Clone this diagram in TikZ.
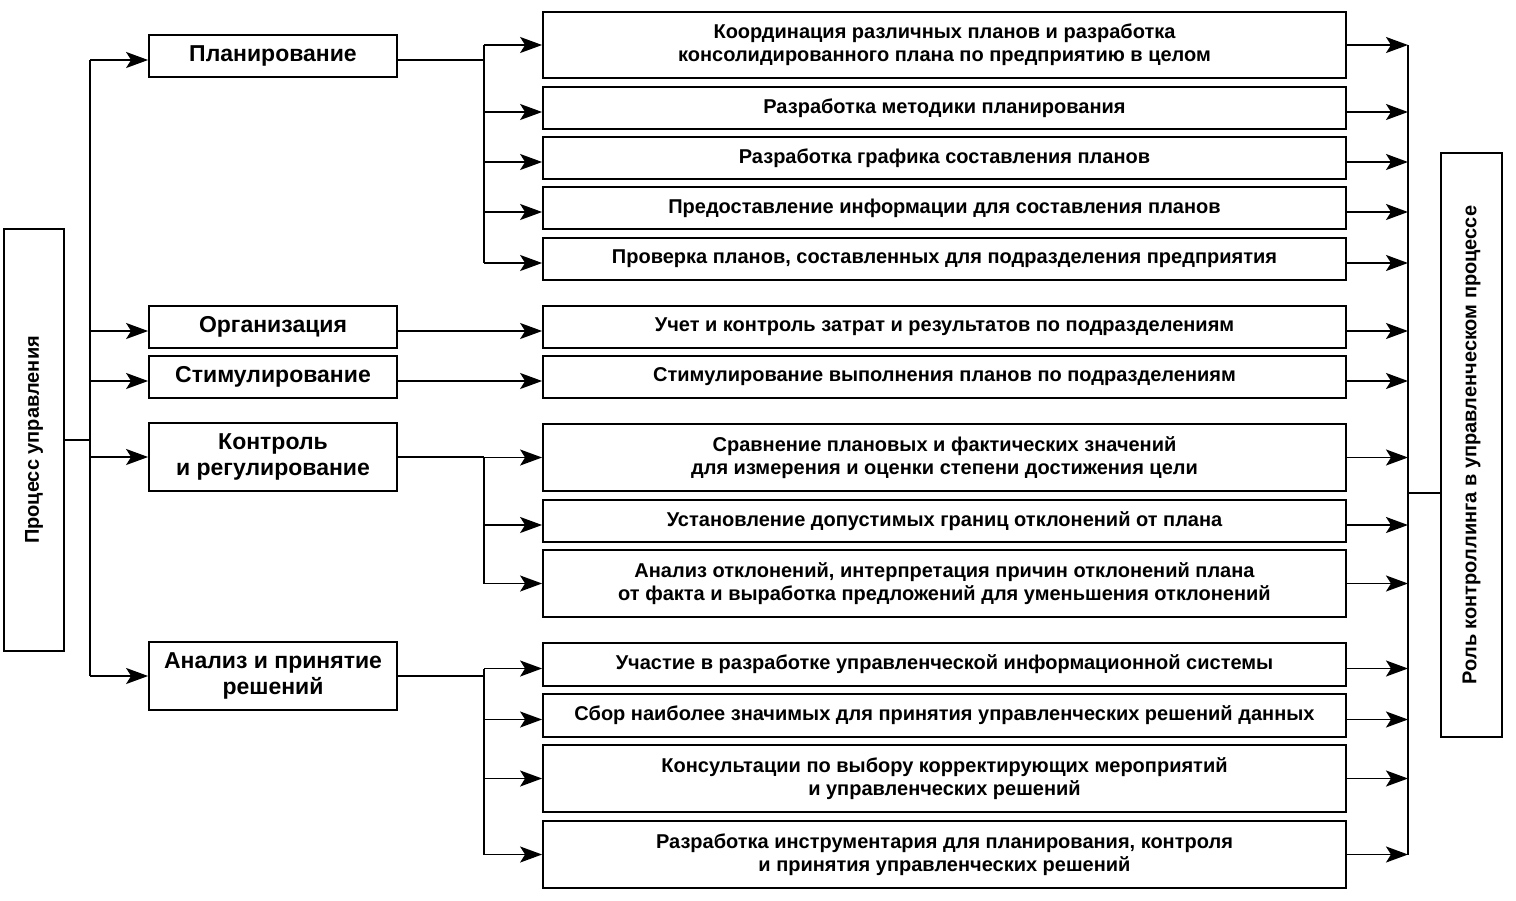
\documentclass[tikz,border=0pt]{standalone}
\usepackage{fontspec}
\setmainfont{Liberation Sans}
\usetikzlibrary{arrows.meta}
\begin{document}
\begin{tikzpicture}[x=1pt,y=-1pt,
  box/.style={draw, line width=1.8pt, inner sep=0pt, align=center},
  rbox/.style={box, minimum width=803pt, font=\fontsize{20}{23}\selectfont\bfseries},
  mbox/.style={box, minimum width=248pt, font=\fontsize{23}{26}\selectfont\bfseries},
  sbox/.style={box, rotate=90, font=\fontsize{20}{23}\selectfont\bfseries},
  arr/.style={-{Stealth[length=22pt,width=16pt,inset=5pt]}, line width=1.8pt},
  ln/.style={line width=1.8pt}]
\useasboundingbox (0,0) rectangle (1516,900);
% side boxes
\node[sbox, minimum width=422pt, minimum height=60pt] (L) at (34,440) {Процесс управления};
\node[sbox, minimum width=584pt, minimum height=61pt] (R) at (1471.5,445) {Роль контроллинга в управленческом процессе};
% middle boxes
\node[mbox, minimum height=42pt] (m1) at (273,56) {Планирование};
\node[mbox, minimum height=42pt] (m2) at (273,327) {Организация};
\node[mbox, minimum height=42pt] (m3) at (273,377) {Стимулирование};
\node[mbox, minimum height=68pt] (m4) at (273,457) {Контроль\\и регулирование};
\node[mbox, minimum height=68pt] (m5) at (273,676) {Анализ и принятие\\решений};
% right boxes
\node[rbox, minimum height=66pt] (r1) at (944.5,45) {Координация различных планов и разработка\\консолидированного плана по предприятию в целом};
\node[rbox, minimum height=42pt] (r2) at (944.5,108) {Разработка методики планирования};
\node[rbox, minimum height=42pt] (r3) at (944.5,158) {Разработка графика составления планов};
\node[rbox, minimum height=42pt] (r4) at (944.5,208) {Предоставление информации для составления планов};
\node[rbox, minimum height=42pt] (r5) at (944.5,259) {Проверка планов, составленных для подразделения предприятия};
\node[rbox, minimum height=42pt] (r6) at (944.5,327) {Учет и контроль затрат и результатов по подразделениям};
\node[rbox, minimum height=42pt] (r7) at (944.5,377) {Стимулирование выполнения планов по подразделениям};
\node[rbox, minimum height=67pt] (r8) at (944.5,457.5) {Сравнение плановых и фактических значений\\для измерения и оценки степени достижения цели};
\node[rbox, minimum height=42pt] (r9) at (944.5,521) {Установление допустимых границ отклонений от плана};
\node[rbox, minimum height=67pt] (r10) at (944.5,583.5) {Анализ отклонений, интерпретация причин отклонений плана\\от факта и выработка предложений для уменьшения отклонений};
\node[rbox, minimum height=43pt] (r11) at (944.5,664.5) {Участие в разработке управленческой информационной системы};
\node[rbox, minimum height=43pt] (r12) at (944.5,715.5) {Сбор наиболее значимых для принятия управленческих решений данных};
\node[rbox, minimum height=67pt] (r13) at (944.5,778.5) {Консультации по выбору корректирующих мероприятий\\и управленческих решений};
\node[rbox, minimum height=67pt] (r14) at (944.5,854.5) {Разработка инструментария для планирования, контроля\\и принятия управленческих решений};
% buses
\coordinate (bL) at (90,440);
\coordinate (bM) at (484,0);
\coordinate (bR) at (1408,0);
\coordinate (rj) at (1408,493);
% left bus
\draw[ln] (L.south) -- (bL);
\draw[ln] ([yshift=-4pt]bL |- m1.west) -- (bL |- m5.west);
\foreach \m/\s in {m1/-4,m2/-4,m3/-4,m4/0,m5/0} \draw[arr] ([yshift=\s pt]bL |- \m.west) -- ([yshift=\s pt]\m.west);
% planning
\draw[ln] ([yshift=-4pt]m1.east) -- ([yshift=-4pt]bM |- m1.east);
\draw[ln] (bM |- r1.west) -- ([yshift=-4pt]bM |- r5.west);
\foreach \r/\s in {r1/0,r2/-4,r3/-4,r4/-4,r5/-4} \draw[arr] ([yshift=\s pt]bM |- \r.west) -- ([yshift=\s pt]\r.west);
% organisation, stimulation
\draw[arr] ([yshift=-4pt]m2.east) -- ([yshift=-4pt]r6.west);
\draw[arr] ([yshift=-4pt]m3.east) -- ([yshift=-4pt]r7.west);
% control
\draw[ln] (m4.east) -- (bM |- m4.east);
\draw[ln] (bM |- r8.west) -- (bM |- r10.west);
\foreach \r/\s in {r8/0,r9/-4,r10/0} \draw[arr] ([yshift=\s pt]bM |- \r.west) -- ([yshift=\s pt]\r.west);
% analysis
\draw[ln] (m5.east) -- (bM |- m5.east);
\draw[ln] ([yshift=-4pt]bM |- r11.west) -- (bM |- r14.west);
\foreach \r/\s in {r11/-4,r12/-4,r13/0,r14/0} \draw[arr] ([yshift=\s pt]bM |- \r.west) -- ([yshift=\s pt]\r.west);
% right bus
\foreach \r/\s in {r1/0,r2/-4,r3/-4,r4/-4,r5/-4,r6/-4,r7/-4,r8/0,r9/-4,r10/0,r11/-4,r12/-4,r13/0,r14/0} \draw[arr] ([yshift=\s pt]\r.east) -- ([yshift=\s pt]bR |- \r.east);
\draw[ln] (bR |- r1.east) -- (bR |- r14.east);
\draw[ln] (rj) -- (rj -| R.north);
\end{tikzpicture}
\end{document}
